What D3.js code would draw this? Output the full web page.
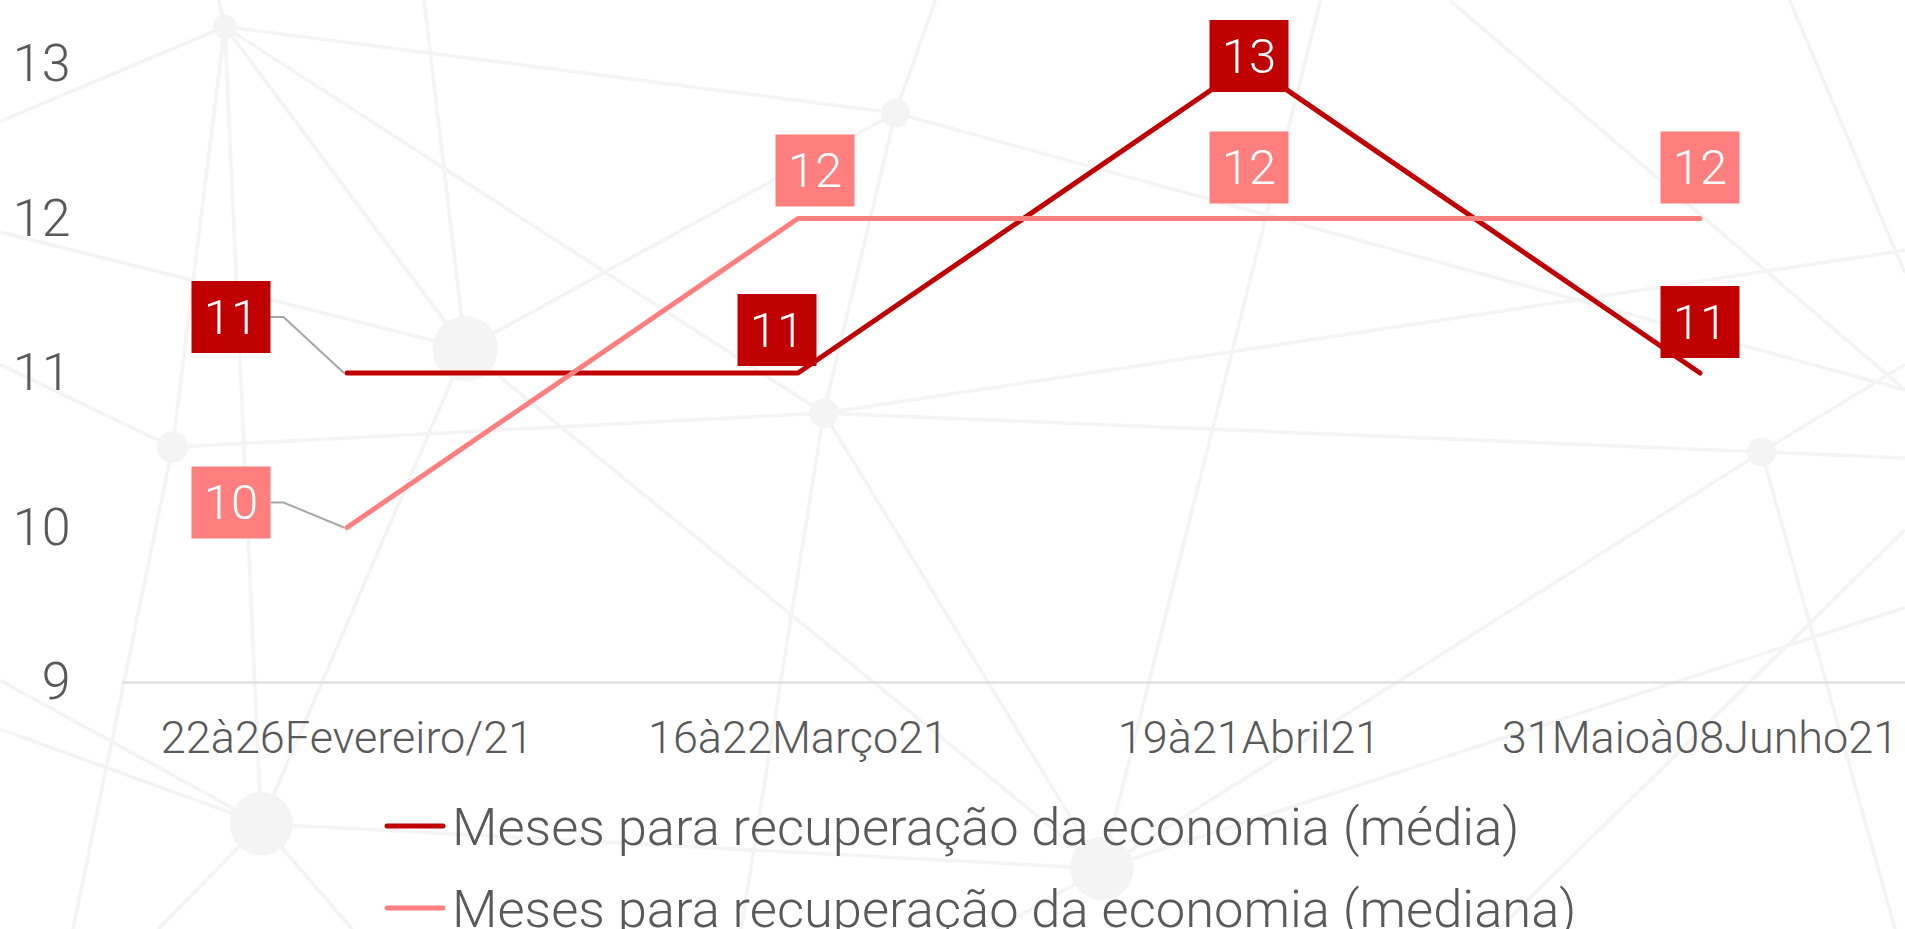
<!DOCTYPE html>
<meta charset="utf-8">
<title>Meses para recuperação da economia</title>
<script src="https://cdn.jsdelivr.net/npm/d3@7"></script>
<style>
  body { margin: 0; background: #fff; }
  svg text { font-family: Roboto, "Liberation Sans", sans-serif; font-weight: 300; fill: #595959; }
</style>
<body>
<div id="chart"></div>
<script>
// chart data
var categories = ["22à26Fevereiro/21", "16à22Março21", "19à21Abril21", "31Maioà08Junho21"];
var mediaValues = [11, 11, 13, 11];
var medianaValues = [10, 12, 12, 12];
var yTicks = [9, 10, 11, 12, 13];
var seriesNames = ["Meses para recuperação da economia (média)",
                   "Meses para recuperação da economia (mediana)"];

// data labels were dragged by hand in the original: shift from the point, px
var mediaLabelShift = [[-116, -56], [-21, -43], [0, -8], [0, -51]];
var medianaLabelShift = [[-116, -25], [17, -48], [0, -51], [0, -51]];

var colMedia = "#c00000",
    colMediana = "#ff7f7f";

var W = 1905, H = 929;

var svg = d3.select("#chart").append("svg")
    .attr("width", W)
    .attr("height", H);

// --- decorative network backdrop (drawn on a 1568 wide sketch, scaled up) ---
var bgScale = W / 1568;
var bgNodes = {
  A: [185, 22, 10], B: [737, 93, 12], C: [383, 287, 27], D: [142, 368, 13],
  E: [678, 340, 12], F: [1450, 372, 12], G: [215, 678, 26], H: [907, 715, 26]
};
function P(k) { return typeof k === "string" ? bgNodes[k] : k; }
var bgEdges = [
  [[0, 100], "A"], ["A", "B"], ["A", "C"], ["A", "E"], ["A", "D"], [[180, 0], "A"], ["A", "G"],
  [[349, 0], "C"], [[0, 191], "C"], ["C", "B"], ["C", "G"], ["C", "H"],
  ["D", "E"], ["E", "F"], ["F", [1568, 377]], ["D", [60, 765]], [[0, 300], "D"],
  ["B", "E"], ["E", [610, 765]], ["B", [770, 0]], ["B", [1568, 321]], ["E", "H"],
  ["E", [1568, 206]], ["F", "H"], ["F", [1560, 765]], ["F", [1568, 300]],
  ["G", "H"], ["G", [0, 600]], ["G", [130, 765]], ["G", [290, 765]],
  ["H", [1568, 500]], [[1087, 0], "H"], [[1193, 0], [1568, 321]], [[1473, 0], [1568, 225]],
  ["H", [820, 765]], [[1568, 436], [1233, 765]], [[0, 560], "G"]
];
var bg = svg.append("g").attr("transform", "scale(" + bgScale + ")");
bg.selectAll("line").data(bgEdges).join("line")
    .attr("x1", function(d) { return P(d[0])[0]; })
    .attr("y1", function(d) { return P(d[0])[1]; })
    .attr("x2", function(d) { return P(d[1])[0]; })
    .attr("y2", function(d) { return P(d[1])[1]; })
    .attr("stroke", "#f4f4f4")
    .attr("stroke-width", 3);
bg.selectAll("circle").data(Object.values(bgNodes)).join("circle")
    .attr("cx", function(d) { return d[0]; })
    .attr("cy", function(d) { return d[1]; })
    .attr("r", function(d) { return d[2]; })
    .attr("fill", "#f4f4f4");

// --- scales ---
var x = d3.scaleBand()
    .domain(categories)
    .range([121.5, 1925.5]);
function xc(i) { return x(categories[i]) + x.bandwidth() / 2; }

var y = d3.scaleLinear()
    .domain([9, 13])
    .range([682, 64]);

// y axis (labels only)
var yAxis = svg.append("g")
    .attr("transform", "translate(121.5,0)")
    .call(d3.axisLeft(y).tickValues(yTicks).tickSize(0).tickPadding(51).tickFormat(d3.format("d")));
yAxis.select(".domain").remove();
yAxis.attr("font-size", null).attr("font-family", null);
yAxis.selectAll("text").style("font-size", "52px");

// x axis
var xAxis = svg.append("g")
    .attr("transform", "translate(0,682)")
    .call(d3.axisBottom(x).tickSize(0).tickSizeOuter(0).tickPadding(39));
xAxis.attr("font-size", null).attr("font-family", null);
xAxis.select(".domain").attr("stroke", "#d9d9d9").attr("stroke-width", 2);
xAxis.selectAll("text").style("font-size", "45px");

// --- lines ---
var line = d3.line()
    .x(function(d, i) { return xc(i); })
    .y(function(d) { return y(d); });

svg.append("path")
    .datum(mediaValues)
    .attr("d", line)
    .attr("fill", "none")
    .attr("stroke", colMedia)
    .attr("stroke-width", 5)
    .attr("stroke-linejoin", "round")
    .attr("stroke-linecap", "round");

svg.append("path")
    .datum(medianaValues)
    .attr("d", line)
    .attr("fill", "none")
    .attr("stroke", colMediana)
    .attr("stroke-width", 5)
    .attr("stroke-linejoin", "round")
    .attr("stroke-linecap", "round");

// --- data labels ---
var boxW = 79, boxH = 72;
function drawLabels(values, shift, color) {
  values.forEach(function(v, i) {
    var px = xc(i), py = y(v);
    var cx = px + shift[i][0], cy = py + shift[i][1];
    if (Math.abs(shift[i][0]) > 60) {
      // leader line back to the point
      svg.append("path")
          .attr("d", "M" + (cx + boxW / 2) + "," + cy + "h13L" + (px - 3) + "," + py)
          .attr("fill", "none")
          .attr("stroke", "#a6a6a6")
          .attr("stroke-width", 2);
    }
    svg.append("rect")
        .attr("x", cx - boxW / 2)
        .attr("y", cy - boxH / 2)
        .attr("width", boxW)
        .attr("height", boxH)
        .attr("fill", color);
    svg.append("text")
        .attr("x", cx)
        .attr("y", cy)
        .attr("dy", "0.34em")
        .attr("text-anchor", "middle")
        .style("font-size", "49px")
        .style("fill", "#fff")
        .text(v);
  });
}
drawLabels(mediaValues, mediaLabelShift, colMedia);
drawLabels(medianaValues, medianaLabelShift, colMediana);

// --- legend (second row runs off the bottom, as in the original) ---
var legend = svg.append("g");
var legendRows = [{name: seriesNames[0], color: colMedia, y: 826},
                  {name: seriesNames[1], color: colMediana, y: 908}];
legendRows.forEach(function(r) {
  legend.append("line")
      .attr("x1", 387).attr("x2", 443)
      .attr("y1", r.y).attr("y2", r.y)
      .attr("stroke", r.color)
      .attr("stroke-width", 5)
      .attr("stroke-linecap", "round");
  legend.append("text")
      .attr("x", 452)
      .attr("y", r.y + 19)
      .style("font-size", "52.5px")
      .text(r.name);
});
</script>
</body>
